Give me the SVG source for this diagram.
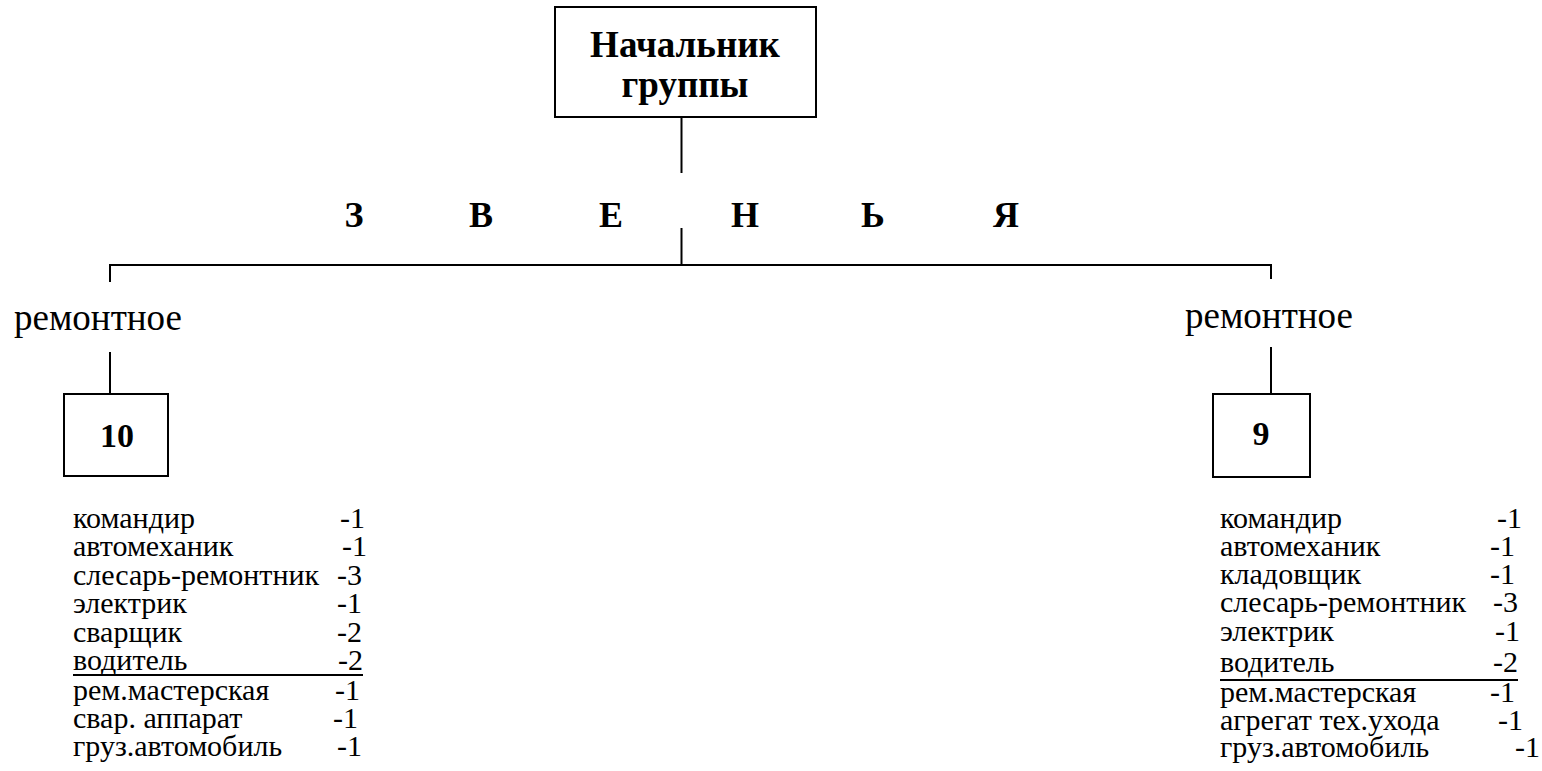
<svg xmlns="http://www.w3.org/2000/svg" width="1542" height="771" viewBox="0 0 1542 771">
<style>
.box{fill:#fff;stroke:#000;stroke-width:2}
.ln{stroke:#000;stroke-width:2;fill:none}
.b{font-family:"Liberation Serif","Times New Roman",serif;font-weight:bold;fill:#000}
.r{font-family:"Liberation Serif","Times New Roman",serif;fill:#000}
.lst{font-family:"Liberation Serif","Times New Roman",serif;font-size:30px;fill:#000}
</style>
<rect width="1542" height="771" fill="#fff"/>
<g id="connectors">
<line class="ln" x1="681.5" y1="117" x2="681.5" y2="173"/>
<line class="ln" x1="681.5" y1="228" x2="681.5" y2="265"/>
<line class="ln" x1="109" y1="265" x2="1272" y2="265"/>
<line class="ln" x1="110" y1="264" x2="110" y2="282"/>
<line class="ln" x1="1271" y1="264" x2="1271" y2="279"/>
<line class="ln" x1="110" y1="352" x2="110" y2="394"/>
<line class="ln" x1="1271" y1="347" x2="1271" y2="394"/>
</g>
<g id="head">
<rect class="box" x="555" y="7" width="261" height="110"/>
<text class="b" font-size="37" text-anchor="middle" x="685" y="57">Начальник</text>
<text class="b" font-size="37" text-anchor="middle" x="685" y="97">группы</text>
</g>
<g id="zvenya" class="b" font-size="36" text-anchor="middle">
<text x="354" y="227">З</text>
<text x="481" y="227">В</text>
<text x="611" y="227">Е</text>
<text x="745" y="227">Н</text>
<text x="873" y="227">Ь</text>
<text x="1006" y="227">Я</text>
</g>
<g id="left-unit">
<text class="r" font-size="37" x="14" y="330">ремонтное</text>
<rect class="box" x="64" y="394" width="104" height="82"/>
<text class="b" font-size="34" text-anchor="middle" x="117" y="447">10</text>
</g>
<g id="right-unit">
<text class="r" font-size="37" x="1185" y="328">ремонтное</text>
<rect class="box" x="1213" y="394" width="97" height="83"/>
<text class="b" font-size="34" text-anchor="middle" x="1261" y="445">9</text>
</g>
<g id="left-list" class="lst">
<text x="73" y="528">командир</text><text x="340" y="528">-1</text>
<text x="73" y="556">автомеханик</text><text x="342" y="556">-1</text>
<text x="73" y="585">слесарь-ремонтник</text><text x="337" y="585">-3</text>
<text x="73" y="613">электрик</text><text x="337" y="613">-1</text>
<text x="73" y="642">сварщик</text><text x="337" y="642">-2</text>
<text x="73" y="670">водитель</text><text x="338" y="670">-2</text>
<line class="ln" x1="73" y1="675" x2="363" y2="675"/>
<text x="73" y="700">рем.мастерская</text><text x="335" y="700">-1</text>
<text x="73" y="728">свар. аппарат</text><text x="333" y="728">-1</text>
<text x="73" y="756">груз.автомобиль</text><text x="337" y="756">-1</text>
</g>
<g id="right-list" class="lst">
<text x="1220" y="528">командир</text><text x="1497" y="528">-1</text>
<text x="1220" y="556">автомеханик</text><text x="1490" y="556">-1</text>
<text x="1220" y="584">кладовщик</text><text x="1490" y="584">-1</text>
<text x="1220" y="612">слесарь-ремонтник</text><text x="1493" y="612">-3</text>
<text x="1220" y="641">электрик</text><text x="1495" y="641">-1</text>
<text x="1220" y="672">водитель</text><text x="1493" y="672">-2</text>
<line class="ln" x1="1220" y1="680" x2="1518" y2="680"/>
<text x="1220" y="702">рем.мастерская</text><text x="1490" y="702">-1</text>
<text x="1220" y="730">агрегат тех.ухода</text><text x="1498" y="730">-1</text>
<text x="1220" y="757">груз.автомобиль</text><text x="1515" y="757">-1</text>
</g>
</svg>
